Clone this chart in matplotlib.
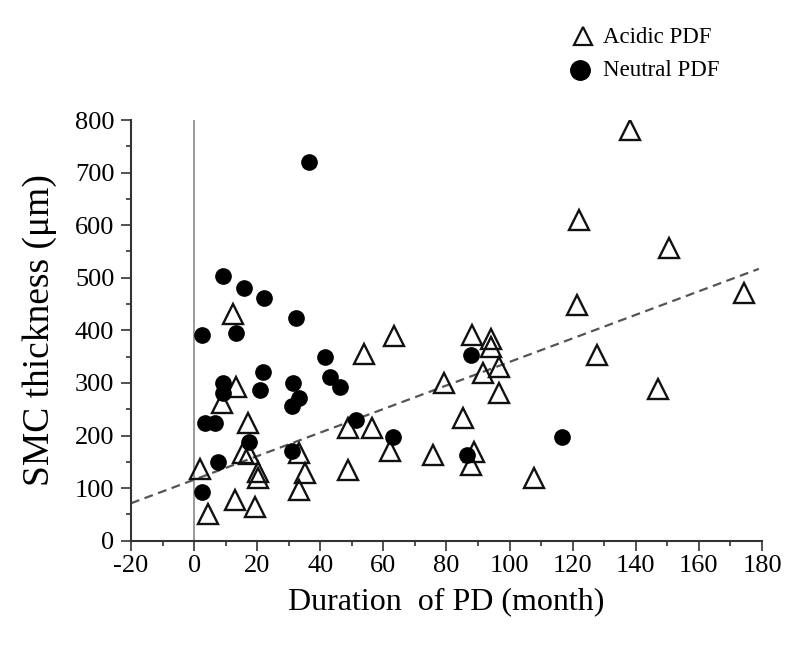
import matplotlib
matplotlib.use("Agg")
import matplotlib.pyplot as plt
from matplotlib.lines import Line2D
from matplotlib.ticker import MultipleLocator
import numpy as np

plt.rcParams['font.family'] = ['Liberation Serif', 'DejaVu Serif']
plt.rcParams['axes.unicode_minus'] = False

# Acidic PDF group: duration (month) and SMC thickness (um)
acidic_month = [138.1, 122.0, 150.6, 121.5, 174.4, 63.3, 88.2, 94.0, 94.0, 127.7,
                96.7, 91.7, 79.3, 147.0, 96.7, 85.1, 62.2, 75.8, 88.8, 87.8,
                107.8, 53.7, 12.4, 13.2, 8.7, 17.2, 48.8, 56.5, 15.5, 17.3,
                33.2, 1.9, 20.4, 20.4, 35.3, 48.8, 33.2, 13.0, 19.3, 4.5]
acidic_smc = [781, 610, 556, 448, 471, 389, 391, 383, 369, 353,
              331, 318, 299, 288, 281, 233, 171, 163, 169, 144,
              119, 356, 432, 292, 261, 224, 214, 215, 167, 164,
              166, 136, 131, 119, 128, 134, 96, 77, 64, 50]

# Neutral PDF group
neutral_month = [36.4, 9.2, 15.7, 22.1, 32.2, 2.6, 13.2, 41.4, 21.7, 43.0,
                 9.2, 31.4, 46.3, 20.9, 9.2, 33.2, 30.9, 3.5, 6.7, 51.2,
                 63.0, 17.5, 30.9, 7.7, 2.5, 87.9, 86.4, 116.7]
neutral_smc = [720, 503, 481, 461, 424, 392, 395, 350, 321, 312,
               300, 300, 292, 286, 280, 271, 256, 224, 224, 229,
               197, 188, 171, 149, 92, 353, 163, 197]

# Linear trend line: thickness = intercept + slope * month
trend_intercept = 116.0
trend_slope = 2.24
trend_range = [-20, 179]

x_ticks = list(range(-20, 181, 20))
y_ticks = list(range(0, 801, 100))

fig = plt.figure(figsize=(7.88, 6.46), dpi=100)
ax = fig.add_axes([0.1662, 0.1630, 0.8008, 0.6512])

# reference line at zero duration
ax.plot([0, 0], [0, 800], color='#9a9a9a', lw=1.4, zorder=1)

tx = np.array(trend_range, dtype=float)
ax.plot(tx, trend_intercept + trend_slope * tx, color='#555555', lw=1.6,
        dashes=(4, 2.5), zorder=2)

ax.plot(acidic_month, acidic_smc, linestyle='none', marker='^', markersize=14,
        markerfacecolor='none', markeredgecolor='#111111', markeredgewidth=1.7,
        zorder=3)
ax.plot(neutral_month, neutral_smc, linestyle='none', marker='o', markersize=11,
        markerfacecolor='black', markeredgecolor='black', zorder=4)

ax.set_xlim(-20, 180)
ax.set_ylim(0, 800)
ax.set_xticks(x_ticks)
ax.set_yticks(y_ticks)
ax.xaxis.set_minor_locator(MultipleLocator(10))
ax.yaxis.set_minor_locator(MultipleLocator(50))

for side in ('top', 'right'):
    ax.spines[side].set_visible(False)
for side in ('left', 'bottom'):
    ax.spines[side].set_color('#333333')
    ax.spines[side].set_linewidth(1.5)

ax.tick_params(which='major', direction='out', length=7, width=1.2,
               color='#333333', labelsize=19, labelcolor='black')
ax.tick_params(which='minor', direction='out', length=3.5, width=1.2,
               color='#333333')
ax.tick_params(axis='y', pad=5)
ax.tick_params(axis='x', pad=3)

ax.set_xlabel('Duration  of PD (month)', fontsize=23, labelpad=8)
ax.set_ylabel('SMC thickness (\u03bcm)', fontsize=27, labelpad=13)

# legend drawn in figure coordinates above the plot area
fig.add_artist(Line2D([0.7398], [0.9443], transform=fig.transFigure,
                      marker='^', markersize=13, markerfacecolor='none',
                      markeredgecolor='#111111', markeredgewidth=1.6,
                      linestyle='none'))
fig.text(0.7652, 0.9412, 'Acidic PDF', fontsize=16.5, va='center', ha='left')
fig.add_artist(Line2D([0.7360], [0.8916], transform=fig.transFigure,
                      marker='o', markersize=14, markerfacecolor='black',
                      markeredgecolor='black', linestyle='none'))
fig.text(0.7652, 0.8916, 'Neutral PDF', fontsize=16.5, va='center', ha='left')

fig.savefig('out.png', dpi=100, facecolor='white')
